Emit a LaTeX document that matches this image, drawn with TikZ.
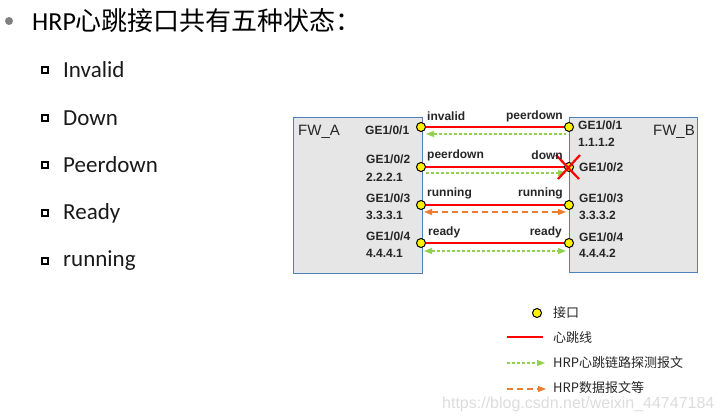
\documentclass[tikz,border=0pt]{standalone}
\usepackage{fontspec}
\setmainfont{Carlito}
\newfontfamily\cjk{Noto Sans CJK SC}
\newfontfamily\arialf{Liberation Sans}
\usetikzlibrary{arrows.meta}
\definecolor{boxfill}{HTML}{E6E6E6}
\definecolor{boxline}{HTML}{4F81BD}
\definecolor{probeg}{HTML}{92D050}
\definecolor{dataor}{HTML}{ED7D31}
\definecolor{wmgray}{HTML}{DCDCDC}
\tikzset{
  fwbox/.style={draw=boxline, fill=boxfill, line width=0.9pt, anchor=north west, inner sep=0},
  port/.style={circle, draw=black, fill=yellow, line width=1pt, minimum size=9pt, inner sep=0},
  hb/.style={red, line width=1.8pt},
  probe/.style={probeg, line width=1.2pt, dash pattern=on 3pt off 2pt},
  dataln/.style={dataor, line width=1.2pt, dash pattern=on 6pt off 4pt},
  tipp/.style={-{Triangle[length=8pt,width=6pt]}},
  tipb/.style={{Triangle[length=8pt,width=6pt]}-{Triangle[length=8pt,width=6pt]}},
  tipl/.style={{Triangle[length=8pt,width=6pt]}-},
  lbl/.style={font=\arialf\bfseries\fontsize{12}{13}\selectfont, inner sep=0, text=black!85},
  fwlbl/.style={font=\arialf\fontsize{15}{16}\selectfont, inner sep=0, text=black!85},
  item/.style={font=\fontsize{23}{25}\selectfont, anchor=west, inner sep=0, text=black!90},
  sqb/.style={draw=black, line width=1.3pt, fill=white, minimum size=6pt, inner sep=0},
  leg/.style={font=\cjk\fontsize{13}{14}\selectfont, anchor=west, inner sep=0, text=black!85}
}
\begin{document}
\begin{tikzpicture}[x=1pt,y=-1pt]
\useasboundingbox (0,0) rectangle (723,420);
% title
\fill[black!50] (9,21) circle (4);
\node[anchor=west, inner sep=0, font=\fontsize{26}{28}\selectfont] (title) at (32,21) {HRP{\cjk 心跳接口共有五种状态：}};
% items
\foreach \y/\t/\n in {70/Invalid/i1, 118/Down/i2, 165/Peerdown/i3, 213/Ready/i4, 261/running/i5}{
  \node[sqb] (b\n) at (45,\y) {};
  \node[item] (\n) at (63,\y) {\t};
}
% boxes
\node[fwbox, minimum width=129pt, minimum height=156pt] (A) at (293,117) {};
\node[fwbox, minimum width=128pt, minimum height=155pt] (B) at (569,117) {};
\node[fwlbl, anchor=west] (An) at (298,132) {FW\_A};
\node[fwlbl, anchor=east] (Bn) at (695,132) {FW\_B};
% ports
\foreach \i/\y in {1/127,2/167,3/205,4/243}{
  \node[port] (pA\i) at (421,\y) {};
  \node[port] (pB\i) at (569,\y) {};
}
% heartbeat lines
\foreach \i in {1,2,3,4}{ \draw[hb] (pA\i) -- (pB\i); }
% probe / data lines
\coordinate (gA1) at (426,134); \coordinate (gB1) at (566,134);
\coordinate (gA2) at (426,173); \coordinate (gB2) at (566,173);
\coordinate (gA3) at (424,212); \coordinate (gB3) at (566,212);
\coordinate (gA4) at (424,251); \coordinate (gB4) at (566,251);
\draw[probe, tipl] (gA1) -- (gB1);
\draw[probe, tipp] (gA2) -- (gB2);
\draw[dataln, tipb] (gA3) -- (gB3);
\draw[probe, tipb] (gA4) -- (gB4);
% red cross
\coordinate (x1) at (556,155); \coordinate (x2) at (579,179);
\coordinate (x3) at (580,155); \coordinate (x4) at (558,179);
\draw[red, line width=2.2pt] (x1) -- (x2);
\draw[red, line width=2.2pt] (x3) -- (x4);
% state labels
\node[lbl, anchor=west] (s1l) at (427,116) {invalid};
\node[lbl, anchor=east] (s1r) at (563,116) {peerdown};
\node[lbl, anchor=west] (s2l) at (427,155) {peerdown};
\node[lbl, anchor=east] (s2r) at (563,155) {down};
\node[lbl, anchor=west] (s3l) at (427,193) {running};
\node[lbl, anchor=east] (s3r) at (563,193) {running};
\node[lbl, anchor=west] (s4l) at (428,232) {ready};
\node[lbl, anchor=east] (s4r) at (562,232) {ready};
% A port labels
\node[lbl, anchor=west] (a1) at (365,130) {GE1/0/1};
\node[lbl, anchor=west] (a2) at (366,159) {GE1/0/2};
\node[lbl, anchor=west] (a2i) at (366,177) {2.2.2.1};
\node[lbl, anchor=west] (a3) at (366,198) {GE1/0/3};
\node[lbl, anchor=west] (a3i) at (366,215) {3.3.3.1};
\node[lbl, anchor=west] (a4) at (366,236) {GE1/0/4};
\node[lbl, anchor=west] (a4i) at (366,253) {4.4.4.1};
% B port labels
\node[lbl, anchor=west] (b1) at (578,125) {GE1/0/1};
\node[lbl, anchor=west] (b1i) at (578,142) {1.1.1.2};
\node[lbl, anchor=west] (b2) at (579,167) {GE1/0/2};
\node[lbl, anchor=west] (b3) at (579,198) {GE1/0/3};
\node[lbl, anchor=west] (b3i) at (579,215) {3.3.3.2};
\node[lbl, anchor=west] (b4) at (579,237) {GE1/0/4};
\node[lbl, anchor=west] (b4i) at (579,253) {4.4.4.2};
% legend
\node[port] (lp) at (537,313) {};
\node[leg] (lt1) at (553,313) {接口};
\coordinate (lr1) at (507,337); \coordinate (lr2) at (543,337);
\draw[hb] (lr1) -- (lr2);
\node[leg] (lt2) at (553,338) {心跳线};
\coordinate (lg1) at (507,363); \coordinate (lg2) at (545,363);
\draw[probe, tipp] (lg1) -- (lg2);
\node[leg] (lt3) at (553,363) {HRP心跳链路探测报文};
\coordinate (lo1) at (507,389); \coordinate (lo2) at (546,389);
\draw[dataln, tipp] (lo1) -- (lo2);
\node[leg] (lt4) at (553,388) {HRP数据报文等};
% watermark
\node[anchor=west, inner sep=0, font=\arialf\fontsize{16}{17}\selectfont, text=wmgray] (wm) at (442,404) {https://blog.csdn.net/weixin\_44747184};
\end{tikzpicture}
\end{document}
